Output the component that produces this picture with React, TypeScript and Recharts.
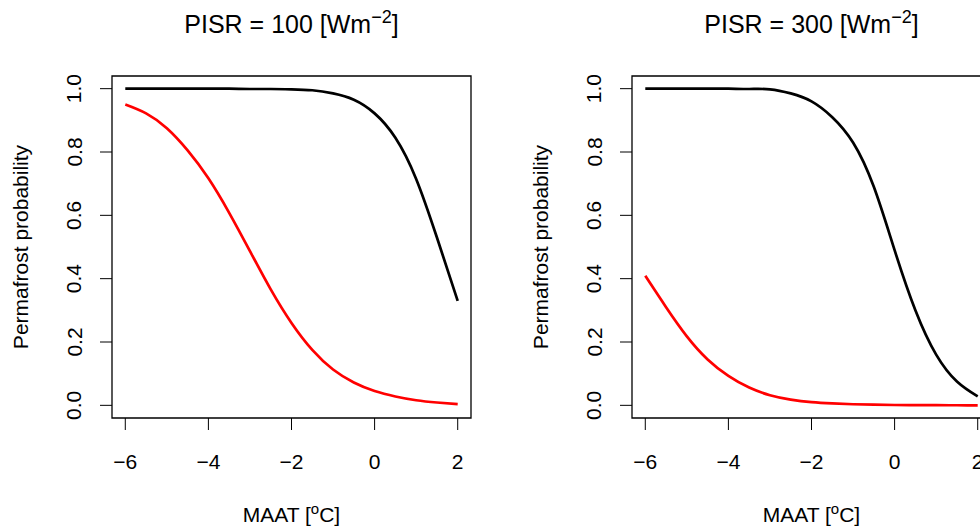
import React from 'react';
import {
  LineChart,
  Line,
  XAxis,
  YAxis,
  ReferenceArea,
} from 'recharts';

// MAAT values the curves were read at (°C)
const maat = [-6, -5.5, -5, -4.5, -4, -3.5, -3, -2.5, -2, -1.5, -1, -0.5, 0, 0.5, 1, 1.5, 2];

// PISR = 100 panel
const pisr100Black = [1, 1, 1, 1, 1, 1, 0.999, 0.999, 0.998, 0.995, 0.985, 0.965, 0.922, 0.845, 0.715, 0.53, 0.33];
const pisr100Red = [0.95, 0.922, 0.875, 0.805, 0.717, 0.608, 0.487, 0.366, 0.26, 0.175, 0.113, 0.072, 0.045, 0.028, 0.016, 0.009, 0.004];

// PISR = 300 panel
const pisr300Black = [1, 1, 1, 1, 1, 0.999, 0.998, 0.985, 0.96, 0.91, 0.83, 0.69, 0.49, 0.3, 0.16, 0.075, 0.028];
const pisr300Red = [0.409, 0.31, 0.218, 0.145, 0.093, 0.056, 0.032, 0.018, 0.01, 0.006, 0.0035, 0.002, 0.001, 0.0007, 0.0004, 0.0002, 0.0001];

const xTicks = [-6, -4, -2, 0, 2];
const yTicks = [0, 0.2, 0.4, 0.6, 0.8, 1.0];

const FONT = '"Liberation Sans", Arial, Helvetica, sans-serif';
const X_DOMAIN: [number, number] = [-6.32, 2.32];
const Y_DOMAIN: [number, number] = [-0.04, 1.04];

const fmtX = (v: number) => (v < 0 ? `\u2212${Math.abs(v)}` : `${v}`);

function YTick({ x, y, payload }: any) {
  const bx = x - 18.5;
  return (
    <text
      x={bx}
      y={y}
      transform={`rotate(-90 ${bx} ${y})`}
      textAnchor="middle"
      fontSize={21}
      fontFamily={FONT}
      fill="#000"
    >
      {Number(payload.value).toFixed(1)}
    </text>
  );
}

function TitleLabel({ viewBox, pisr }: any) {
  const vb = viewBox || { x: 112, y: 76, width: 359 };
  const cx = vb.x + vb.width / 2;
  return (
    <text x={cx} y={vb.y - 43} textAnchor="middle" fontSize={25} fontFamily={FONT} fill="#000">
      {`PISR = ${pisr} [Wm`}
      <tspan dy={-10} fontSize={18}>{'\u22122'}</tspan>
      <tspan dy={10}>]</tspan>
    </text>
  );
}

function XTitle({ viewBox }: any) {
  const vb = viewBox || { x: 112, y: 418, width: 359 };
  const cx = vb.x + vb.width / 2;
  return (
    <text x={cx} y={vb.y + 104} textAnchor="middle" fontSize={21} fontFamily={FONT} fill="#000">
      MAAT [<tspan dy={-8} fontSize={15}>o</tspan>
      <tspan dy={8}>C]</tspan>
    </text>
  );
}

function YTitle({ viewBox }: any) {
  const vb = viewBox || { x: 0, y: 76, height: 342 };
  const bx = vb.x + 28;
  const cy = vb.y + vb.height / 2;
  return (
    <text
      x={bx}
      y={cy}
      transform={`rotate(-90 ${bx} ${cy})`}
      textAnchor="middle"
      fontSize={21}
      fontFamily={FONT}
      fill="#000"
    >
      Permafrost probability
    </text>
  );
}

interface PanelProps {
  pisr: number;
  black: number[];
  red: number[];
}

function Panel({ pisr, black, red }: PanelProps) {
  const rows = maat.map((x, i) => ({ x, black: black[i], red: red[i] }));
  return (
    <LineChart
      width={520}
      height={527}
      data={rows}
      margin={{ top: 76, right: 49, bottom: 0, left: 0 }}
    >
      <XAxis
        type="number"
        dataKey="x"
        domain={X_DOMAIN}
        ticks={xTicks}
        allowDataOverflow
        axisLine={false}
        tickSize={12}
        tickMargin={24}
        tickLine={{ stroke: '#000', strokeWidth: 1 }}
        tick={{ fill: '#000', fontSize: 21, fontFamily: FONT }}
        tickFormatter={fmtX}
        height={109}
        label={(props: any) => <XTitle {...props} />}
      />
      <YAxis
        type="number"
        domain={Y_DOMAIN}
        ticks={yTicks}
        allowDataOverflow
        axisLine={false}
        tickSize={12}
        tickMargin={0}
        tickLine={{ stroke: '#000', strokeWidth: 1 }}
        tick={<YTick />}
        width={112}
        label={(props: any) => <YTitle {...props} />}
      />
      <ReferenceArea
        x1={X_DOMAIN[0]}
        x2={X_DOMAIN[1]}
        y1={Y_DOMAIN[0]}
        y2={Y_DOMAIN[1]}
        fill="none"
        fillOpacity={0}
        stroke="#000"
        strokeWidth={1.3}
        ifOverflow="visible"
        label={(props: any) => <TitleLabel {...props} pisr={pisr} />}
      />
      <Line
        type="natural"
        dataKey="black"
        stroke="#000"
        strokeWidth={2.7}
        dot={false}
        activeDot={false}
        isAnimationActive={false}
      />
      <Line
        type="natural"
        dataKey="red"
        stroke="#ff0000"
        strokeWidth={2.7}
        dot={false}
        activeDot={false}
        isAnimationActive={false}
      />
    </LineChart>
  );
}

export default function App() {
  return (
    <div
      style={{
        position: 'absolute',
        left: 0,
        top: 0,
        width: 980,
        height: 527,
        overflow: 'hidden',
        background: '#fff',
        display: 'flex',
      }}
    >
      <div style={{ flex: '0 0 520px' }}>
        <Panel pisr={100} black={pisr100Black} red={pisr100Red} />
      </div>
      <div style={{ flex: '0 0 520px' }}>
        <Panel pisr={300} black={pisr300Black} red={pisr300Red} />
      </div>
    </div>
  );
}
